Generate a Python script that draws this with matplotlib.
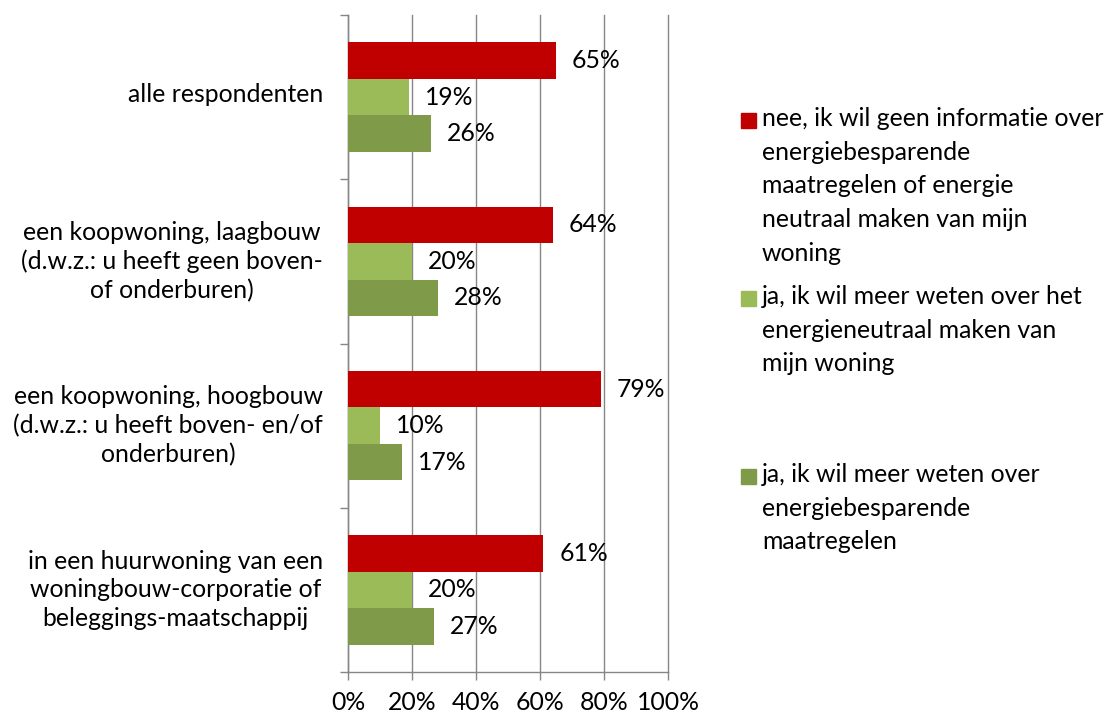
import numpy as np
import matplotlib.pyplot as plt
from matplotlib.patches import Rectangle

plt.rcParams['font.family'] = ['Lato', 'DejaVu Sans']

categories = [
    'alle respondenten',
    'een koopwoning, laagbouw\n(d.w.z.: u heeft geen boven-\nof onderburen)',
    'een koopwoning, hoogbouw\n(d.w.z.: u heeft boven- en/of\nonderburen)',
    'in een huurwoning van een\nwoningbouw-corporatie of\nbeleggings-maatschappij',
]
series_names = [
    'nee, ik wil geen informatie over\nenergiebesparende\nmaatregelen of energie\nneutraal maken van mijn\nwoning',
    'ja, ik wil meer weten over het\nenergieneutraal maken van\nmijn woning',
    'ja, ik wil meer weten over\nenergiebesparende\nmaatregelen',
]
nee = [65, 64, 79, 61]
ja_neutraal = [19, 20, 10, 20]
ja_besparend = [26, 28, 17, 27]
colors = ['#C00000', '#9BBB59', '#7F9B4A']
xticks = [0, 20, 40, 60, 80, 100]

fs = 17.8
grey = '#868686'

fig = plt.figure(figsize=(11.07, 7.17), dpi=100)
ax = fig.add_axes([348 / 1107, 1 - 672 / 717, 320 / 1107, 657 / 717])

y = np.arange(len(categories))
h = 1 / 4.5
for i, (vals, col) in enumerate(zip([nee, ja_neutraal, ja_besparend], colors)):
    pos = y + (i - 1) * h
    ax.barh(pos, vals, height=h, color=col, zorder=3)
    for p, v in zip(pos, vals):
        ax.annotate(f'{v}%', (v, p), xytext=(11.5, 0), textcoords='offset points',
                    ha='left', va='center', fontsize=fs, color='black')

ax.set_xlim(0, 100)
ax.set_ylim(len(categories) - 0.5, -0.5)
ax.set_xticks(xticks)
ax.set_xticklabels([f'{t}%' for t in xticks], fontsize=fs)
ax.xaxis.grid(True, color=grey, linewidth=1.0, zorder=0)
for gl in ax.get_xgridlines():
    gl.set_clip_on(False)

ax.set_yticks(np.arange(len(categories) + 1) - 0.5)
ax.set_yticklabels([])
ax.set_yticks(y - 0.03, minor=True)
ax.set_yticklabels(categories, minor=True, fontsize=fs, multialignment='center',
                   linespacing=1.30)
ax.tick_params(axis='y', which='minor', length=0, pad=18)
ax.tick_params(axis='y', which='major', length=6, color=grey, width=1.0)
ax.tick_params(axis='x', length=6, color=grey, width=1.0, pad=8)

for s in ['top', 'right']:
    ax.spines[s].set_visible(False)
for s in ['left', 'bottom']:
    ax.spines[s].set_color(grey)
    ax.spines[s].set_linewidth(1.0)

# legend, entries placed like the Excel layout
tops = [113, 291, 469]
for name, col, t in zip(series_names, colors, tops):
    fig.patches.append(Rectangle((741 / 1107, 1 - (t + 15) / 717), 15 / 1107, 15 / 717,
                                 transform=fig.transFigure, color=col))
    fig.text(762 / 1107, 1 - (t - 6) / 717, name, fontsize=fs, va='top', ha='left',
             linespacing=1.56)

fig.savefig('out.png', dpi=100)
